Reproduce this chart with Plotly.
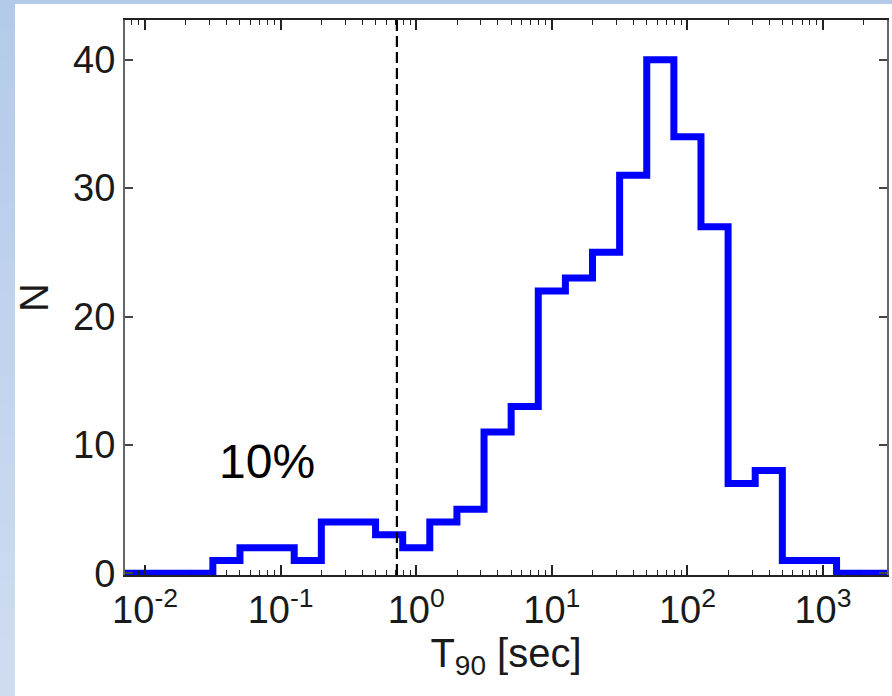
import plotly.graph_objects as go

# Histogram of burst durations (log-spaced bins, 0.2 dex wide)
log_edges = [-2.3, -2.1, -1.9, -1.7, -1.5, -1.3, -1.1, -0.9, -0.7, -0.5,
             -0.3, -0.1, 0.1, 0.3, 0.5, 0.7, 0.9, 1.1, 1.3, 1.5,
             1.7, 1.9, 2.1, 2.3, 2.5, 2.7, 2.9, 3.1, 3.3, 3.5]
counts = [0, 0, 0, 0, 1, 2, 2, 1, 4, 4,
          3, 2, 4, 5, 11, 13, 22, 23, 25, 31,
          40, 34, 27, 7, 8, 1, 1, 0, 0]

t_cut = 0.72          # short / long separation [sec]
short_label = "10%"

x_tickvals = [0.01, 0.1, 1, 10, 100, 1000]
x_ticktext = ["10<sup>-2</sup>", "10<sup>-1</sup>", "10<sup>0</sup>",
              "10<sup>1</sup>", "10<sup>2</sup>", "10<sup>3</sup>"]
y_tickvals = [0, 10, 20, 30, 40]

W, H = 892, 696
L, R, T, B = 125, 5, 20, 121
PW, PH = W - L - R, H - T - B
FONT = "Liberation Sans, Arial, Helvetica, sans-serif"


def px_x(x):
    return (x - L) / PW


def px_y(y):
    return (H - B - y) / PH


edges = [10 ** e for e in log_edges]
step_y = counts + [counts[-1]]

fig = go.Figure()
fig.add_trace(go.Scatter(
    x=edges, y=step_y, mode="lines", line_shape="hv",
    line=dict(color="#0000ff", width=7), hoverinfo="skip", showlegend=False,
))

fig.add_vline(x=t_cut, line=dict(color="black", width=2.2, dash="11px,5px"))

# slide background strips (soft blue gradient) around the white panel
shapes = []
top_c = (180, 202, 234)
bot_c = (207, 220, 240)
n = 24
for i in range(n):
    f = i / (n - 1)
    c = tuple(round(a + (b - a) * f) for a, b in zip(top_c, bot_c))
    y0 = H * i / n
    y1 = H * (i + 1) / n
    shapes.append(dict(type="rect", xref="paper", yref="paper",
                       x0=px_x(0), x1=px_x(15), y0=px_y(y1), y1=px_y(y0),
                       fillcolor="rgb(%d,%d,%d)" % c, line=dict(width=0), layer="below"))
shapes.append(dict(type="rect", xref="paper", yref="paper",
                   x0=px_x(0), x1=px_x(W), y0=px_y(4), y1=px_y(0),
                   fillcolor="rgb(%d,%d,%d)" % top_c, line=dict(width=0), layer="below"))
for s in shapes:
    fig.add_shape(**s)

fig.add_annotation(x=-1.1, y=8.7, xref="x", yref="y", text=short_label,
                   showarrow=False, font=dict(family=FONT, size=48, color="black"))

fig.update_layout(
    width=W, height=H,
    margin=dict(l=L, r=R, t=T, b=B, autoexpand=False),
    paper_bgcolor="white", plot_bgcolor="white",
    font=dict(family=FONT, color="#1a1a1a"),
    xaxis=dict(
        type="log", range=[-2.148, 3.472],
        tickmode="array", tickvals=x_tickvals, ticktext=x_ticktext,
        ticks="inside", ticklen=10, tickwidth=1.5, tickcolor="#222",
        minor=dict(ticks="inside", ticklen=5, tickwidth=1.2, tickcolor="#222", dtick="D1"),
        showline=True, linecolor="#222", linewidth=2, mirror="allticks",
        showgrid=False, zeroline=False,
        tickfont=dict(family=FONT, size=38, color="#1a1a1a"),
        title=dict(text="T<sub>90</sub> [sec]", font=dict(family=FONT, size=40, color="#1a1a1a"),
                   standoff=6),
    ),
    yaxis=dict(
        range=[-0.13, 43.1],
        tickmode="array", tickvals=y_tickvals,
        ticks="inside", ticklen=8, tickwidth=1.5, tickcolor="#444",
        showline=True, linecolor="#666", linewidth=2, mirror="ticks",
        showgrid=False, zeroline=False,
        tickfont=dict(family=FONT, size=38, color="#1a1a1a"),
        title=dict(text="N", font=dict(family=FONT, size=40, color="#1a1a1a"), standoff=12),
    ),
)

fig.write_html("out.html")
